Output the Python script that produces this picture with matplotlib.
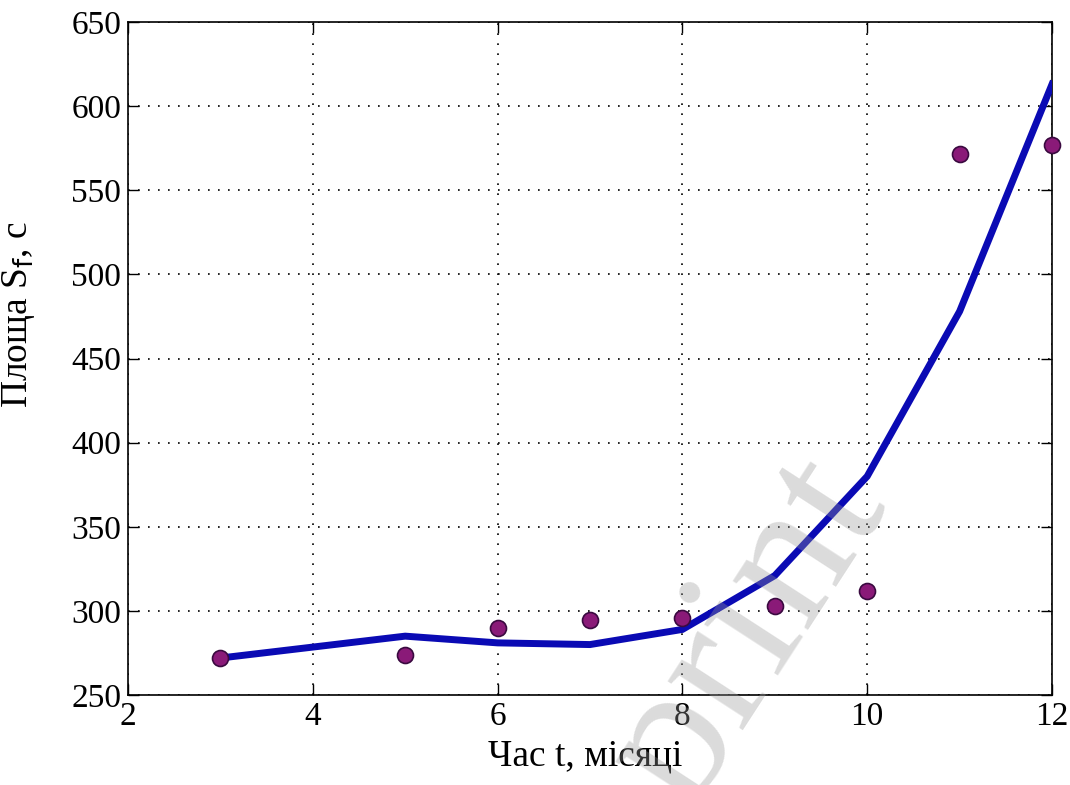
import numpy as np
import matplotlib.pyplot as plt

# measured points
months = [3, 5, 6, 7, 8, 9, 10, 11, 12]
area = [272, 274, 290, 294.5, 296, 303, 312, 571.5, 577]

# model curve
fit_months = [3, 4, 5, 6, 7, 8, 9, 10, 11, 12]
fit_area = [272, 278.5, 285, 281, 280, 289, 321, 380, 478, 613]

plt.rcParams['font.family'] = ['Liberation Serif', 'DejaVu Serif']

fig = plt.figure(figsize=(10.7, 7.85), dpi=100)
ax = fig.add_axes([0.1196, 0.1146, 0.8636, 0.8574])

ax.plot(fit_months, fit_area, color='#0a0ab4', linewidth=5, solid_joinstyle='miter', zorder=3)
ax.plot(months, area, linestyle='none', marker='o', markersize=11.5,
        markerfacecolor='#8a1a78', markeredgecolor='#3a0a40', markeredgewidth=1.2,
        zorder=4, clip_on=False)

ax.set_xlim(2, 12)
ax.set_ylim(250, 650)
ax.set_xticks(np.arange(2, 13, 2))
ax.set_yticks(np.arange(250, 651, 50))
ax.grid(True, linestyle=(0, (1, 5)), color='black', linewidth=1.2)
ax.tick_params(direction='in', length=8, width=1, labelsize=24, top=True, right=True, pad=5)
for s in ax.spines.values():
    s.set_linewidth(1.2)

ax.set_xlabel('Час t, місяці', fontsize=27)
ax.set_ylabel('Площа S$_\\mathrm{f}$, с', fontsize=27)
ax.xaxis.set_label_coords(0.495, -0.066)
ax.yaxis.set_label_coords(-0.098, 0.565)

# watermark (cut by the bottom edge, as in the source)
fig.text(0.70, 0.195, 'print', fontsize=140, color='#999999', alpha=0.35,
         rotation=57, ha='center', va='center', zorder=10)

fig.savefig('out.png', dpi=100)
